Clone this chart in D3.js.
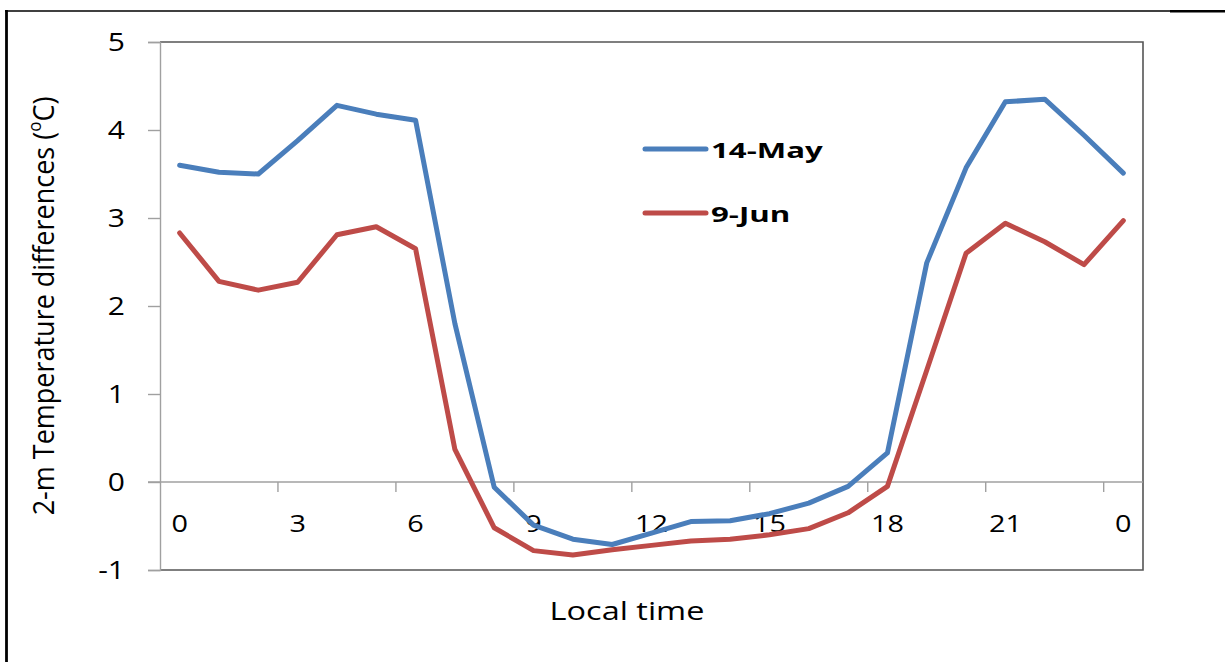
<!DOCTYPE html>
<html>
<head>
<meta charset="utf-8">
<script src="https://cdn.jsdelivr.net/npm/d3@7/dist/d3.min.js"></script>
<style>
  html, body { margin: 0; padding: 0; background: #fff; }
  svg { display: block; }
  text { font-family: "Open Sans", "Liberation Sans", sans-serif; fill: #000; }
</style>
</head>
<body>
<svg id="chart" width="1225" height="662"></svg>
<script>
// Hour-of-day categories (the last point wraps round to midnight)
const hourLabels = ["0","1","2","3","4","5","6","7","8","9","10","11","12",
                    "13","14","15","16","17","18","19","20","21","22","23","0"];
const shownHours = [0, 3, 6, 9, 12, 15, 18, 21, 24];
const yTicks = [-1, 0, 1, 2, 3, 4, 5];

// 2-m temperature differences (°C)
const may14 = [3.60, 3.52, 3.50, 3.88, 4.28, 4.18, 4.11, 1.80, -0.06, -0.49, -0.65, -0.71, -0.58,
               -0.45, -0.44, -0.36, -0.24, -0.05, 0.33, 2.49, 3.57, 4.32, 4.35, 3.94, 3.51];
const jun9  = [2.83, 2.28, 2.18, 2.27, 2.81, 2.90, 2.65, 0.37, -0.52, -0.78, -0.83, -0.77, -0.72,
               -0.67, -0.65, -0.60, -0.53, -0.35, -0.05, 1.27, 2.60, 2.94, 2.73, 2.47, 2.97];

const seriesNames = ["14-May", "9-Jun"];
const seriesColors = ["#4a7ebb", "#be4b48"];

const svg = d3.select("#chart");
const plot = { left: 160, right: 1143, top: 42, bottom: 570 };
const sx = 1.2; // horizontal text stretch

const idx = d3.range(hourLabels.length);
const x = d3.scalePoint().domain(idx).range([plot.left, plot.right]).padding(0.5);
const step = x.step();
const y = d3.scaleLinear().domain([-1, 5]).range([plot.bottom, plot.top]);

// outer frame
svg.append("line").attr("x1", 5).attr("x2", 1170).attr("y1", 11).attr("y2", 11)
  .attr("stroke", "#000").attr("stroke-width", 1.6);
svg.append("line").attr("x1", 1170).attr("x2", 1225).attr("y1", 11.3).attr("y2", 11.3)
  .attr("stroke", "#000").attr("stroke-width", 2.6);
svg.append("line").attr("x1", 6.5).attr("x2", 6.5).attr("y1", 10).attr("y2", 662)
  .attr("stroke", "#000").attr("stroke-width", 2.8);

// plot frame (top, right, bottom)
svg.append("path")
  .attr("d", `M${plot.left},${plot.top}H${plot.right}V${plot.bottom}H${plot.left}`)
  .attr("fill", "none").attr("stroke", "#555").attr("stroke-width", 1.6);

// y axis
const yAxis = d3.axisLeft(y).tickValues(yTicks).tickSize(12).tickFormat("");
const gy = svg.append("g").attr("transform", `translate(${plot.left},0)`).call(yAxis);
gy.select(".domain").attr("stroke", "#a0a0a0").attr("stroke-width", 1.4);
gy.selectAll(".tick line").attr("stroke", "#a0a0a0").attr("stroke-width", 1.4);

svg.append("g").selectAll("text").data(yTicks).join("text")
  .attr("transform", d => `translate(125,${y(d) + 9}) scale(${sx},1)`)
  .attr("text-anchor", "end")
  .style("font-size", "25px")
  .text(d => d);

// x axis on the zero line, ticks between categories every 3 hours
const boundaryTicks = [3, 6, 9, 12, 15, 18, 21, 24].map(i => x(i) - step / 2);
const gx = svg.append("g").attr("transform", `translate(0,${y(0)})`);
gx.append("line").attr("x1", 148).attr("x2", plot.right).attr("y1", 0).attr("y2", 0)
  .attr("stroke", "#a0a0a0").attr("stroke-width", 1.4);
gx.selectAll("line.tk").data(boundaryTicks).join("line").attr("class", "tk")
  .attr("x1", d => d).attr("x2", d => d).attr("y1", 0).attr("y2", 10)
  .attr("stroke", "#a0a0a0").attr("stroke-width", 1.4);
gx.selectAll("text").data(shownHours).join("text")
  .attr("transform", d => `translate(${x(d)},50) scale(${sx},1)`)
  .attr("text-anchor", "middle")
  .style("font-size", "24px")
  .text(d => hourLabels[d]);

// series lines
const line = d3.line().x((d, i) => x(i)).y(d => y(d));
[may14, jun9].forEach((vals, k) => {
  svg.append("path").datum(vals)
    .attr("d", line)
    .attr("fill", "none")
    .attr("stroke", seriesColors[k])
    .attr("stroke-width", 5)
    .attr("stroke-linejoin", "round")
    .attr("stroke-linecap", "round");
});

// legend
const legendRows = [149, 213];
seriesNames.forEach((name, k) => {
  svg.append("line").attr("x1", 645).attr("x2", 706)
    .attr("y1", legendRows[k]).attr("y2", legendRows[k])
    .attr("stroke", seriesColors[k]).attr("stroke-width", 5).attr("stroke-linecap", "round");
  svg.append("text")
    .attr("transform", `translate(711,${legendRows[k] + 8.5}) scale(1.42,1)`)
    .style("font-size", "22px").style("font-weight", "bold")
    .text(name);
});

// axis titles
svg.append("text")
  .attr("transform", `translate(627,620) scale(1.3,1)`)
  .attr("text-anchor", "middle")
  .style("font-size", "25px")
  .text("Local time");

const yt = svg.append("text")
  .attr("transform", `translate(54,306) rotate(-90) scale(1,1.1)`)
  .attr("text-anchor", "middle")
  .style("font-size", "27px");
yt.append("tspan").text("2-m Temperature differences (");
yt.append("tspan").attr("baseline-shift", "super").style("font-size", "17px").text("o");
yt.append("tspan").text("C)");
</script>
</body>
</html>
